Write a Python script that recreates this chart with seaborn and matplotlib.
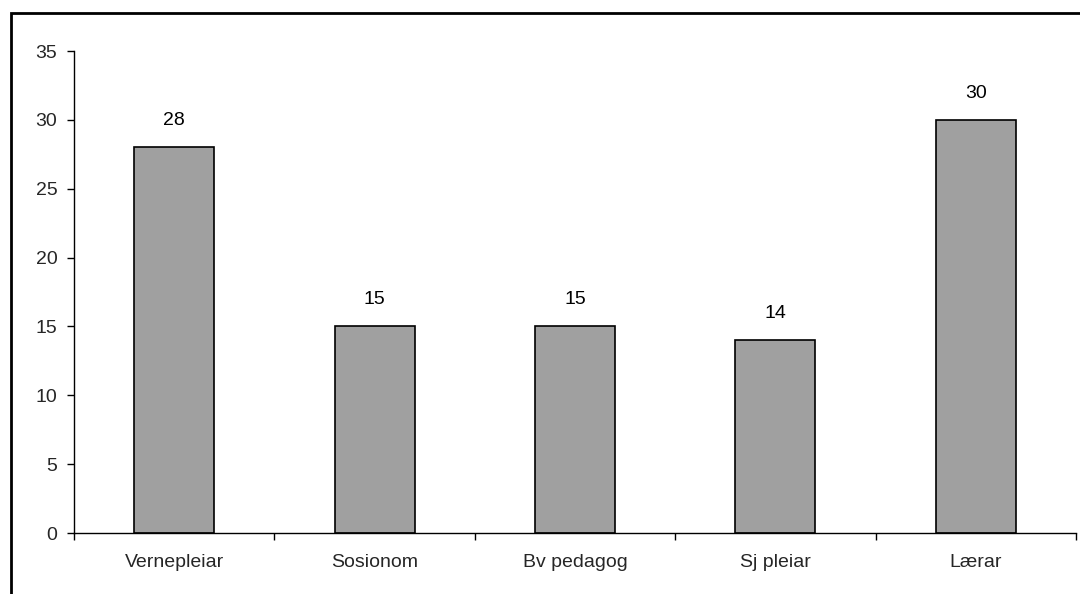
import matplotlib
matplotlib.use("Agg")
import matplotlib.pyplot as plt
import seaborn as sns
import pandas as pd
import numpy as np
from matplotlib.patches import Rectangle

categories = ["Vernepleiar", "Sosionom", "Bv pedagog", "Sj pleiar", "Lærar"]
values = [28, 15, 15, 14, 30]
y_ticks = [0, 5, 10, 15, 20, 25, 30, 35]

sns.set_style("white")
plt.rcParams["font.family"] = ["Liberation Sans", "DejaVu Sans"]

FS = 14

df = pd.DataFrame({"kategori": categories, "antal": values})

fig = plt.figure(figsize=(10.8, 5.94), dpi=100)
ax = fig.add_axes([74 / 1080, 1 - 533 / 594, (1076 - 74) / 1080, (533 - 51) / 594])

sns.barplot(data=df, x="kategori", y="antal", ax=ax, color="#A0A0A0",
            saturation=1, width=0.4, edgecolor="black", linewidth=1.2)

for i, v in enumerate(values):
    ax.annotate(str(v), (i, v), xytext=(0, 13), textcoords="offset points",
                ha="center", va="bottom", fontsize=FS, color="black")

ax.set_xlim(-0.5, len(categories) - 0.5)
ax.set_ylim(0, 35)
ax.set_yticks(y_ticks)
ax.set_xlabel("")
ax.set_ylabel("")

# Category boundary ticks on the x axis
ax.set_xticks(np.arange(-0.5, len(categories), 1.0), minor=True)
ax.tick_params(axis="x", which="major", length=0, pad=15, labelsize=FS)
ax.tick_params(axis="x", which="minor", length=5, width=1, color="black", direction="out")
ax.tick_params(axis="y", which="major", length=5, width=1, color="black",
               direction="out", pad=7, labelsize=FS)
ax.tick_params(left=True, bottom=True)
ax.xaxis.set_tick_params(which="minor", bottom=True)

for side in ["top", "right"]:
    ax.spines[side].set_visible(False)
for side in ["left", "bottom"]:
    ax.spines[side].set_color("black")
    ax.spines[side].set_linewidth(1)

# Chart-area border
fig.patches.append(Rectangle((10.5 / 1080, -0.1), 1.2, (1 - 13.5 / 594) + 0.1,
                             transform=fig.transFigure, fill=False,
                             edgecolor="black", linewidth=2, zorder=10))

fig.savefig("out.png", dpi=100)
